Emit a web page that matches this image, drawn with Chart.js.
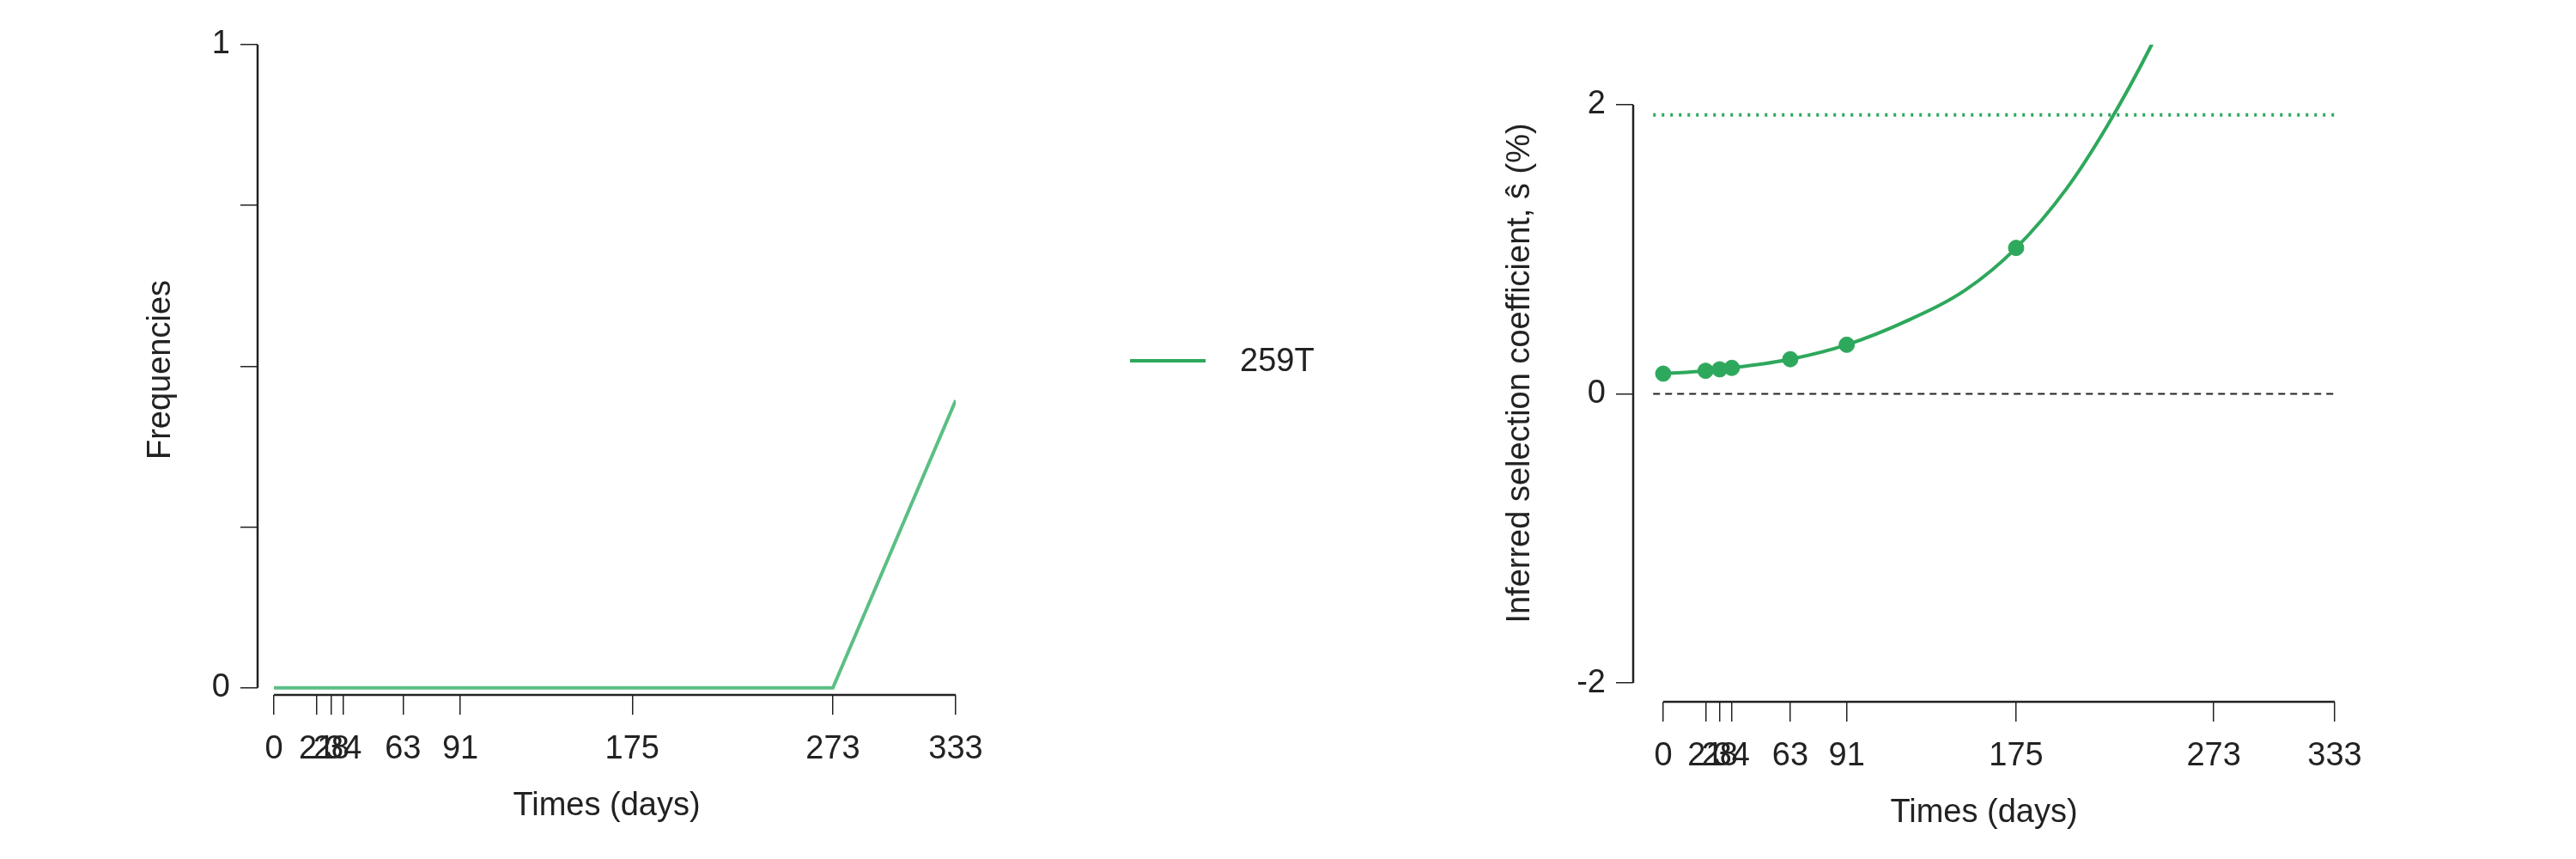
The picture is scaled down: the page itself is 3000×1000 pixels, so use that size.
<!DOCTYPE html>
<html><head><meta charset="utf-8">
<script src="https://cdn.jsdelivr.net/npm/chart.js@4"></script>
<style>
body{margin:0;background:#fff;width:3000px;height:1000px;position:relative;overflow:hidden;font-family:"Liberation Sans",Arial,sans-serif}
canvas{position:absolute;top:0}
#legend{position:absolute;left:1316px;top:398px;font-size:38px;color:#222;display:flex;align-items:center}
#legend span{display:inline-block;width:88px;height:4px;background:#2ea85c;margin-right:40px}
</style></head><body>
<div style="position:absolute;left:0;top:0;width:1500px;height:1000px"><canvas id="c1"></canvas></div>
<div style="position:absolute;left:1500px;top:0;width:1500px;height:1000px"><canvas id="c2"></canvas></div>
<div id="legend"><span></span>259T</div>
<script>
const timeTicks=[0,21,28,34,63,91,175,273,333];
const freqDays=[0,21,28,34,63,91,175,273,333];
const freq259T=[0,0,0,0,0,0,0,0,0.447];
const sDays=[0,21,28,34,63,91,175];
const sValues=[0.14,0.16,0.17,0.18,0.24,0.34,1.01];
const curveDays=[0,21,28,34,63,91,120,150,175,200,220,242,260];
const curveValues=[0.14,0.16,0.17,0.18,0.24,0.34,0.5,0.72,1.01,1.42,1.85,2.41,2.95];
const freqYTicks=[0,0.25,0.5,0.75,1];
const sYTicks=[-2,0,2];
const sThreshold=1.93;

const F='"Liberation Sans", Arial, sans-serif';
const font={family:F,size:38};
const axisLine={id:'axisLine',afterDraw(ch,a,o){
  const c=ch.ctx,x=ch.scales.x,y=ch.scales.y;c.save();c.strokeStyle='#222';c.lineWidth=2.5;c.beginPath();
  c.moveTo(x.getPixelForValue(o.x0),x.top);c.lineTo(x.getPixelForValue(o.x1),x.top);
  c.moveTo(y.right,y.getPixelForValue(o.y0));c.lineTo(y.right,y.getPixelForValue(o.y1));c.stroke();c.restore();}};
function mk(id,cfg){
  const yLabels=cfg.yLabels;
  return new Chart(document.getElementById(id),{type:'line',data:{datasets:cfg.datasets},
    plugins:[axisLine],
    options:{responsive:false,animation:false,devicePixelRatio:1,
      layout:{padding:{top:52,right:cfg.pr,bottom:0,left:0}},
      plugins:{legend:{display:false},tooltip:{enabled:false},axisLine:cfg.axis},
      scales:{
        x:{type:'linear',min:cfg.xmin,max:333,afterBuildTicks:s=>{s.ticks=timeTicks.map(v=>({value:v}))},
          afterFit:s=>{s.height=cfg.xh},
          ticks:{autoSkip:false,maxRotation:0,font,color:'#222',padding:18,callback:v=>String(v)},
          grid:{drawOnChartArea:false,tickLength:23,color:'#222',lineWidth:1.5},border:{display:false},
          title:{display:true,text:'Times (days)',font,color:'#222',padding:{top:0,bottom:cfg.xtb}}},
        y:{min:cfg.ymin,max:cfg.ymax,afterBuildTicks:s=>{s.ticks=cfg.yt.map(v=>({value:v}))},
          afterFit:s=>{s.width=cfg.yw},
          ticks:{font,color:'#222',padding:12,callback:v=>yLabels.includes(v)?String(v):''},
          grid:{drawOnChartArea:false,tickLength:20,color:'#222',lineWidth:1.5},border:{display:false},
          title:{display:true,text:cfg.ytitle,font,color:'#222',padding:{top:cfg.ytp,bottom:0}}}}}});
}
const c1=document.getElementById('c1');c1.width=1500;c1.height=1000;
const c2=document.getElementById('c2');c2.width=1500;c2.height=1000;
mk('c1',{pr:387,xmin:-8,ymin:-0.011,ymax:1,xh:191,xtb:39,yw:300,ytp:165,yt:freqYTicks,yLabels:[0,1],
  ytitle:'Frequencies',axis:{x0:0,x1:333,y0:0,y1:1},
  datasets:[{data:freqDays.map((d,i)=>({x:d,y:freq259T[i]})),borderColor:'#5bbf85',borderWidth:4,pointRadius:0,tension:0}]});
mk('c2',{pr:281,xmin:-14.9,ymin:-2.13,ymax:2.416,xh:183,xtb:31,yw:402,ytp:248,yt:sYTicks,yLabels:[-2,0,2],
  ytitle:'Inferred selection coefficient, ŝ (%)',axis:{x0:0,x1:333,y0:-2,y1:2},
  datasets:[
    {data:[{x:-5,y:0},{x:338,y:0}],borderColor:'#222',borderWidth:2,borderDash:[8,6],pointRadius:0},
    {data:[{x:-5,y:sThreshold},{x:338,y:sThreshold}],borderColor:'#2ea85c',borderWidth:4,borderDash:[3,7],pointRadius:0},
    {data:curveDays.map((d,i)=>({x:d,y:curveValues[i]})),borderColor:'#2ea85c',borderWidth:4,pointRadius:0,cubicInterpolationMode:'monotone'},
    {data:sDays.map((d,i)=>({x:d,y:sValues[i]})),showLine:false,pointRadius:9,pointBackgroundColor:'#2ea85c',pointBorderColor:'#2ea85c'}
  ]});
</script></body></html>
